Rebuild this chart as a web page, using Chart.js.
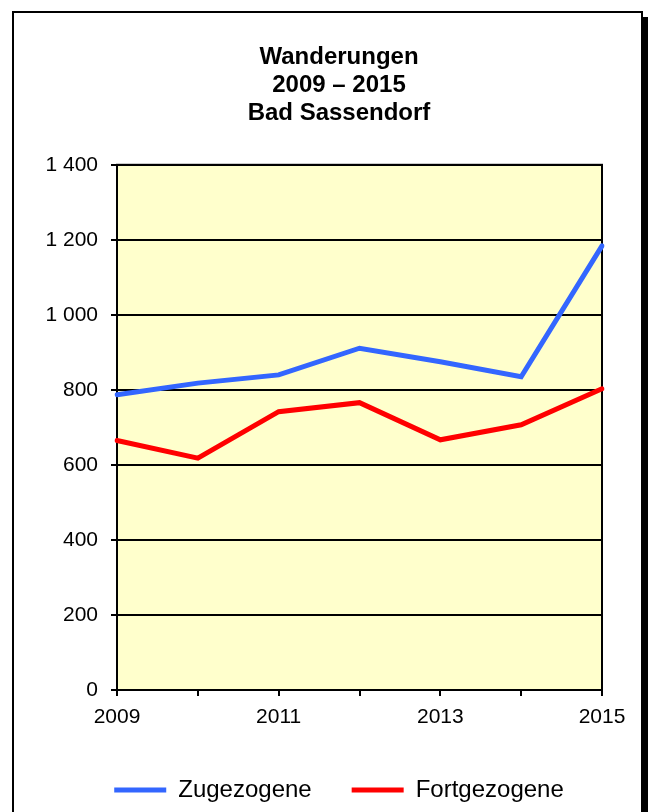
<!DOCTYPE html>
<html lang="de">
<head>
    <meta charset="UTF-8">
    <title>Wanderungen 2009 – 2015 Bad Sassendorf</title>
    <script src="https://cdn.jsdelivr.net/npm/chart.js"></script>
    <style>
        body {
            margin: 0;
            background: #fff;
            overflow: hidden;
        }
        /* Rahmen mit Schatten */
        #frame {
            position: absolute;
            left: 12px;
            top: 11px;
            width: 627px;
            height: 900px;
            border: 2px solid #000;
            box-shadow: 6px 6px 0 #000;
            background: #fff;
        }
        #chart {
            position: absolute;
            left: 0;
            top: 0;
        }
    </style>
</head>
<body>

    <div id="frame"></div>
    <canvas id="chart" width="648" height="812"></canvas>

    <script>
        // Daten
        const years = ["2009", "2010", "2011", "2012", "2013", "2014", "2015"];
        const zugezogene = [787, 818, 840, 911, 875, 835, 1184];
        const fortgezogene = [665, 618, 742, 766, 667, 707, 803];
        const titleLines = ["Wanderungen", "2009 – 2015", "Bad Sassendorf"];

        // gelber Plotbereich mit schwarzem Rahmen
        const plotArea = {
            id: "plotArea",
            beforeDraw(chart) {
                const a = chart.chartArea;
                const ctx = chart.ctx;
                ctx.save();
                ctx.fillStyle = "#FFFFCC";
                ctx.fillRect(a.left, a.top, a.right - a.left, a.bottom - a.top);
                ctx.restore();
            },
            beforeDatasetsDraw(chart) {
                const a = chart.chartArea;
                const ctx = chart.ctx;
                ctx.save();
                ctx.strokeStyle = "#000";
                ctx.lineWidth = 2;
                ctx.strokeRect(a.left, a.top, a.right - a.left, a.bottom - a.top);
                ctx.restore();
            }
        };

        const fontFamily = "Arial, 'Liberation Sans', sans-serif";

        new Chart(document.getElementById("chart"), {
            type: "line",
            data: {
                labels: years,
                datasets: [
                    {
                        label: "Zugezogene",
                        data: zugezogene,
                        borderColor: "#3366FF",
                        backgroundColor: "#3366FF",
                        borderWidth: 5,
                        borderCapStyle: "round",
                        pointRadius: 0,
                        tension: 0
                    },
                    {
                        label: "Fortgezogene",
                        data: fortgezogene,
                        borderColor: "#FF0000",
                        backgroundColor: "#FF0000",
                        borderWidth: 5,
                        borderCapStyle: "round",
                        pointRadius: 0,
                        tension: 0
                    }
                ]
            },
            options: {
                responsive: false,
                animation: false,
                layout: {
                    padding: { left: 30, right: 0, top: 0, bottom: 0 }
                },
                plugins: {
                    title: {
                        display: true,
                        text: titleLines,
                        color: "#000",
                        font: { family: fontFamily, size: 24, weight: "bold", lineHeight: 1.15 },
                        padding: { top: 44, bottom: 38 }
                    },
                    legend: {
                        position: "bottom",
                        labels: {
                            color: "#000",
                            font: { family: fontFamily, size: 24 },
                            usePointStyle: true,
                            pointStyle: "line",
                            pointStyleWidth: 52,
                            padding: 40
                        }
                    },
                    tooltip: { enabled: false }
                },
                scales: {
                    x: {
                        afterFit(scale) { scale.height = 48; },
                        grid: {
                            drawOnChartArea: false,
                            drawTicks: true,
                            tickLength: 6,
                            color: "#000",
                            lineWidth: 2
                        },
                        border: { color: "#000", width: 2 },
                        ticks: {
                            autoSkip: false,
                            maxRotation: 0,
                            padding: 9,
                            color: "#000",
                            font: { family: fontFamily, size: 21 },
                            callback(value, index) {
                                return index % 2 === 0 ? years[index] : "";
                            }
                        }
                    },
                    y: {
                        min: 0,
                        max: 1400,
                        afterFit(scale) { scale.width = 87; },
                        grid: {
                            color: "#000",
                            lineWidth: 2,
                            tickLength: 6
                        },
                        border: { color: "#000", width: 2 },
                        ticks: {
                            stepSize: 200,
                            padding: 13,
                            color: "#000",
                            font: { family: fontFamily, size: 21 },
                            callback(value) {
                                return String(value).replace(/\B(?=(\d{3})+(?!\d))/g, " ");
                            }
                        }
                    },
                    // leere rechte Achse, haelt den Abstand zum Rahmen frei
                    yRight: {
                        position: "right",
                        afterFit(scale) { scale.width = 46; },
                        grid: { display: false },
                        border: { display: false },
                        ticks: { display: false }
                    }
                }
            },
            plugins: [plotArea]
        });
    </script>

</body>
</html>
